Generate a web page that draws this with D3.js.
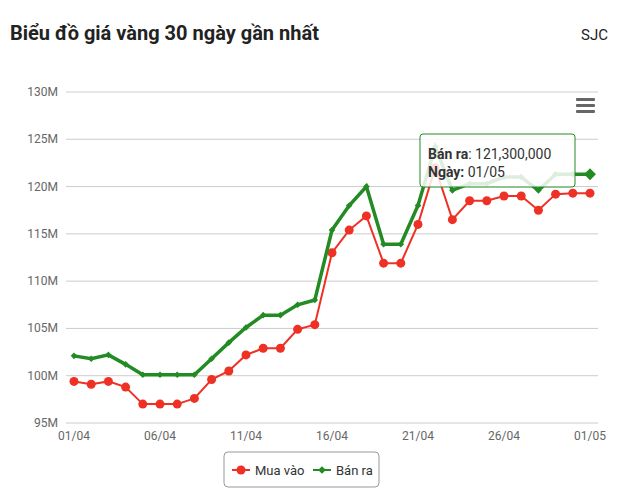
<!DOCTYPE html>
<html><head><meta charset="utf-8">
<script src="https://cdn.jsdelivr.net/npm/d3@7"></script>
<style>body{margin:0;background:#fff;font-family:Roboto,"Noto Sans",sans-serif}</style>
</head><body><svg id="c" width="640" height="499"></svg>
<script>
// Giá mua vào / bán ra (triệu đồng) 01/04 - 01/05
const days = d3.range(31).map(i => i < 30 ? String(i + 1).padStart(2, "0") + "/04" : "01/05");
const muaVao = [99.4,99.1,99.4,98.8,97.0,97.0,97.0,97.6,99.6,100.5,102.2,102.9,102.9,104.9,105.4,113.0,115.4,116.9,111.9,111.9,116.0,122.0,116.5,118.5,118.5,119.0,119.0,117.5,119.2,119.3,119.3];
const banRa = [102.1,101.8,102.2,101.2,100.1,100.1,100.1,100.1,101.8,103.5,105.1,106.4,106.4,107.5,108.0,115.4,118.0,120.0,113.9,113.9,118.0,124.2,119.6,120.3,120.3,121.0,121.0,119.6,121.3,121.3,121.3];
const yTicks = [95,100,105,110,115,120,125,130];
const xTicks = [0,5,10,15,20,25,30];

const svg = d3.select("#c");
const x = d3.scaleLinear().domain([0,30]).range([74,590]);
const y = d3.scaleLinear().domain([95,130]).range([423,92]);

svg.append("text").attr("x",10).attr("y",40).attr("font-size",20).attr("font-weight","bold").attr("fill","#222").text("Biểu đồ giá vàng 30 ngày gần nhất");
svg.append("text").attr("x",608).attr("y",40).attr("text-anchor","end").attr("font-size",15).attr("fill","#222").text("SJC");

// gridlines + y labels
yTicks.forEach(t => {
  svg.append("line").attr("x1",66).attr("x2",598).attr("y1",y(t)).attr("y2",y(t)).attr("stroke","#ccc");
  svg.append("text").attr("x",58).attr("y",y(t)+4).attr("text-anchor","end").attr("font-size",12).attr("fill","#666").text(t + "M");
});
xTicks.forEach(i => {
  svg.append("text").attr("x",x(i)).attr("y",440).attr("text-anchor","middle").attr("font-size",12).attr("fill","#666").text(days[i]);
});

// menu icon
[0,6,12].forEach(d => svg.append("rect").attr("x",576).attr("y",98+d).attr("width",19).attr("height",3).attr("rx",1).attr("fill","#666"));

const line = d3.line().x((d,i) => x(i)).y(d => y(d));
svg.append("path").datum(muaVao).attr("d",line).attr("fill","none").attr("stroke","#ee3124").attr("stroke-width",2);
svg.selectAll(".m").data(muaVao).join("circle").attr("cx",(d,i)=>x(i)).attr("cy",d=>y(d)).attr("r",4.5).attr("fill","#ee3124");
svg.append("path").datum(banRa).attr("d",line).attr("fill","none").attr("stroke","#238b23").attr("stroke-width",3.5);
svg.selectAll(".b").data(banRa).join("path").attr("transform",(d,i)=>`translate(${x(i)},${y(d)}) rotate(45)`)
  .attr("d",(d,i)=> i===30 ? d3.symbol(d3.symbolSquare,70)() : d3.symbol(d3.symbolSquare,22)()).attr("fill","#238b23");

// tooltip
const tg = svg.append("g").attr("transform","translate(420,134)");
tg.append("rect").attr("width",155).attr("height",53).attr("rx",3).attr("fill","rgba(255,255,255,0.85)").attr("stroke","#238b23");
tg.append("text").attr("x",8).attr("y",25).attr("font-size",14).attr("fill","#333")
  .html('<tspan font-weight="bold">Bán ra</tspan>: 121,300,000');
tg.append("text").attr("x",8).attr("y",43).attr("font-size",14).attr("fill","#333")
  .html('<tspan font-weight="bold">Ngày:</tspan> 01/05');

// legend
const lg = svg.append("g").attr("transform","translate(224,452)");
lg.append("rect").attr("width",155).attr("height",35).attr("rx",4).attr("fill","#fff").attr("stroke","#999");
lg.append("line").attr("x1",8).attr("x2",26).attr("y1",18).attr("y2",18).attr("stroke","#ee3124").attr("stroke-width",2);
lg.append("circle").attr("cx",17).attr("cy",18).attr("r",4.5).attr("fill","#ee3124");
lg.append("text").attr("x",31).attr("y",23).attr("font-size",13).attr("fill","#333").text("Mua vào");
lg.append("line").attr("x1",89).attr("x2",107).attr("y1",18).attr("y2",18).attr("stroke","#238b23").attr("stroke-width",2);
lg.append("path").attr("transform","translate(98,18) rotate(45)").attr("d",d3.symbol(d3.symbolSquare,30)()).attr("fill","#238b23");
lg.append("text").attr("x",112).attr("y",23).attr("font-size",13).attr("fill","#333").text("Bán ra");
</script></body></html>
